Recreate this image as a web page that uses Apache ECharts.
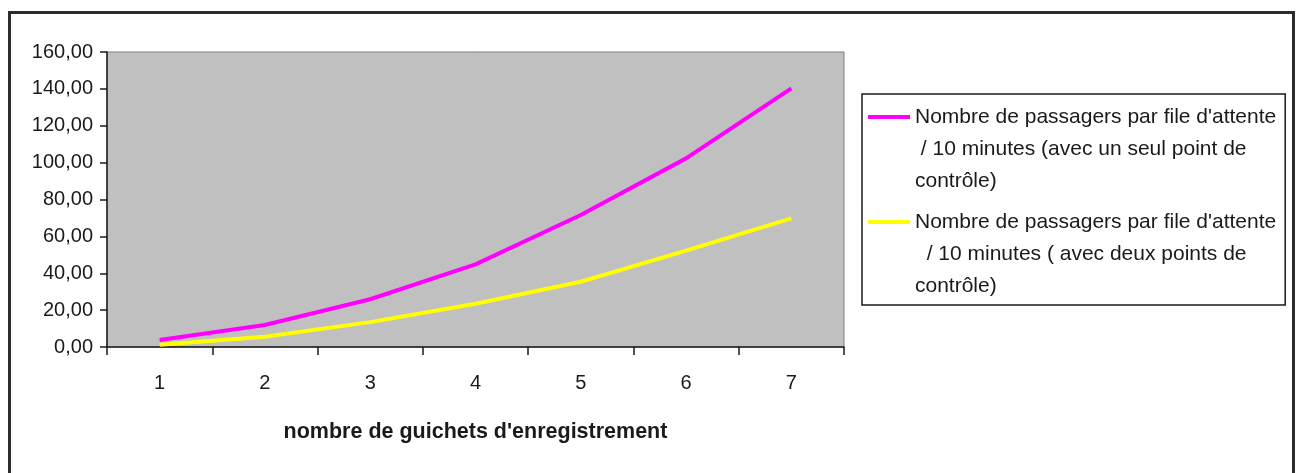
<!DOCTYPE html>
<html>
<head>
<meta charset="utf-8">
<script src="https://cdn.jsdelivr.net/npm/echarts@6/dist/echarts.min.js"></script>
<style>html,body{margin:0;padding:0;background:#fff;}#c{width:1298px;height:473px;}</style>
</head>
<body>
<div id="c"></div>
<script>
const categories = ['1', '2', '3', '4', '5', '6', '7'];
const seriesOneNames = 'Nombre de passagers par file d\'attente\n / 10 minutes (avec un seul point de\ncontrôle)';
const seriesTwoNames = 'Nombre de passagers par file d\'attente\n  / 10 minutes ( avec deux points de\ncontrôle)';
const unSeulPoint = [3.8, 11.9, 25.9, 44.8, 71.6, 102.3, 140.3];
const deuxPoints = [1.2, 5.6, 13.5, 23.5, 35.4, 52.3, 69.8];
const yTicks = { min: 0, max: 160, interval: 20 };
const xAxisTitle = 'nombre de guichets d\'enregistrement';

const FONT = 'Liberation Sans, Arial, sans-serif';
const chart = echarts.init(document.getElementById('c'), null, { renderer: 'canvas' });
const markerIcon = 'path://M0,0h0.01v0.01h-0.01z M0,14h42v4h-42z M0,95.99h0.01v0.01h-0.01z';

chart.setOption({
  animation: false,
  backgroundColor: '#ffffff',
  graphic: [{
    type: 'rect', left: 7, top: 10, silent: true,
    shape: { width: 1284, height: 480 },
    style: { fill: 'none', stroke: '#2b2b2b', lineWidth: 3 }
  }],
  grid: {
    left: 107, top: 52, right: 454, bottom: 126,
    show: true, backgroundColor: '#c0c0c0', borderColor: '#808080', borderWidth: 1
  },
  legend: {
    orient: 'vertical', left: 862, top: 94,
    padding: [7, 9, 3, 6],
    borderColor: '#1a1a1a', borderWidth: 1.5,
    itemWidth: 42, itemHeight: 96, itemGap: 9, itemTextGap: 5,
    icon: markerIcon,
    itemStyle: { borderWidth: 0 },
    textStyle: { fontFamily: FONT, fontSize: 21, lineHeight: 32, color: '#1a1a1a' },
    data: [seriesOneNames, seriesTwoNames]
  },
  xAxis: {
    type: 'category', data: categories, boundaryGap: true,
    name: xAxisTitle, nameLocation: 'middle', nameGap: 74,
    nameTextStyle: { fontFamily: FONT, fontSize: 21.5, fontWeight: 'bold', color: '#1a1a1a' },
    axisLine: { show: true, lineStyle: { color: '#1a1a1a', width: 1.5 } },
    axisTick: { show: true, alignWithLabel: false, interval: 0, length: 8, lineStyle: { color: '#1a1a1a', width: 1.5 } },
    axisLabel: { margin: 26, fontFamily: FONT, fontSize: 20, color: '#1a1a1a' },
    splitLine: { show: false }
  },
  yAxis: {
    type: 'value', min: yTicks.min, max: yTicks.max, interval: yTicks.interval,
    axisLine: { show: true, lineStyle: { color: '#1a1a1a', width: 1.5 } },
    axisTick: { show: true, length: 7, lineStyle: { color: '#1a1a1a', width: 1.5 } },
    axisLabel: {
      margin: 14, fontFamily: FONT, fontSize: 20, color: '#1a1a1a',
      formatter: v => v.toFixed(2).replace('.', ',')
    },
    splitLine: { show: false }
  },
  series: [
    { name: seriesOneNames, type: 'line', data: unSeulPoint, symbol: 'none',
      color: '#ff00ff', lineStyle: { width: 4, color: '#ff00ff' } },
    { name: seriesTwoNames, type: 'line', data: deuxPoints, symbol: 'none',
      color: '#ffff00', lineStyle: { width: 4, color: '#ffff00' } }
  ]
});
</script>
</body>
</html>
